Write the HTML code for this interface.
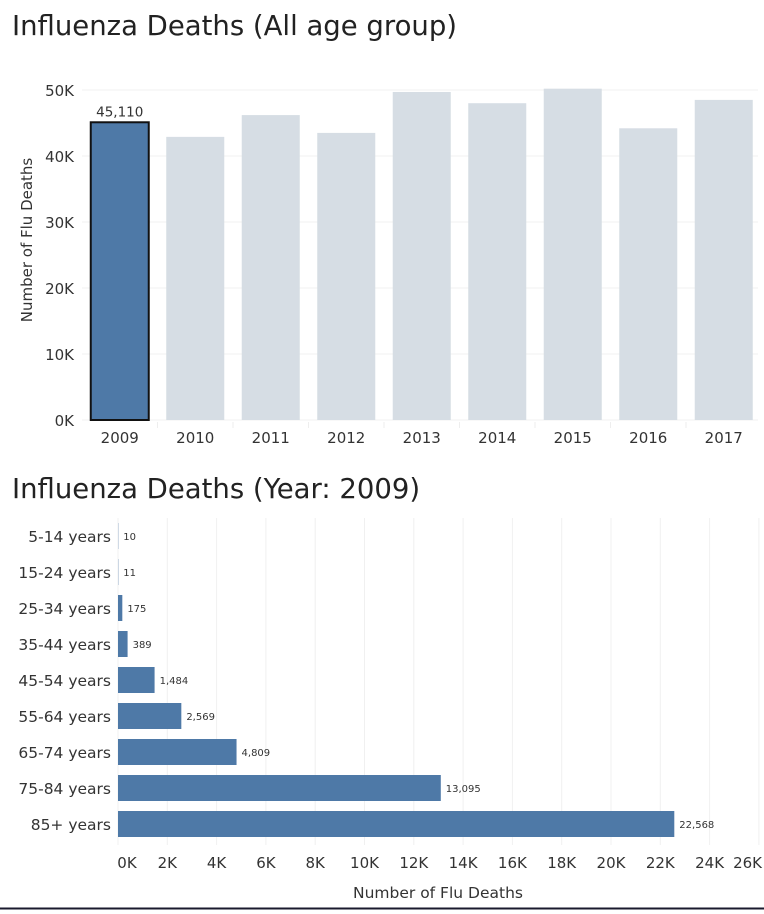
<!DOCTYPE html>
<html><head><meta charset="utf-8"><style>
body{margin:0;background:#fff;width:764px;height:910px;overflow:hidden;font-family:"DejaVu Sans","Liberation Sans",sans-serif}
svg text{font-family:"DejaVu Sans","Liberation Sans",sans-serif}
</style></head><body>
<svg width="764" height="910">
<text x="12" y="35" font-size="27.5" fill="#222">Influenza Deaths (All age group)</text>
<g id="topchart"></g>
<text x="12" y="498" font-size="27.5" fill="#222">Influenza Deaths (Year: 2009)</text>
<g id="botchart"></g>
<line x1="0" y1="908.5" x2="764" y2="908.5" stroke="#1a1a2e" stroke-width="2"/>
</svg>
<script>
const years=["2009","2010","2011","2012","2013","2014","2015","2016","2017"];
const yearDeaths=[45110,42900,46200,43500,49700,48000,50200,44200,48500];
const yTicks=[0,10000,20000,30000,40000,50000];
const yTickLabels=["0K","10K","20K","30K","40K","50K"];
const ages=["5-14 years","15-24 years","25-34 years","35-44 years","45-54 years","55-64 years","65-74 years","75-84 years","85+ years"];
const ageDeaths=[10,11,175,389,1484,2569,4809,13095,22568];
const ageLabels=["10","11","175","389","1,484","2,569","4,809","13,095","22,568"];
const xTicks=[0,2000,4000,6000,8000,10000,12000,14000,16000,18000,20000,22000,24000,26000];
const xTickLabels=["0K","2K","4K","6K","8K","10K","12K","14K","16K","18K","20K","22K","24K","26K"];
const NS="http://www.w3.org/2000/svg";
function mk(p,t,a,txt){const e=document.createElementNS(NS,t);for(const k in a)e.setAttribute(k,a[k]);if(txt!=null)e.textContent=txt;p.appendChild(e);return e;}
const topG=document.getElementById('topchart');
const y0=420,yScale=v=>y0-v*330/50000;
const x0=82,band=75.5,bx=i=>x0+band*i;
yTicks.forEach((t,i)=>{
 const gl=mk(topG,'line',{x1:x0,x2:758,y1:yScale(t),y2:yScale(t),stroke:'#f0f0f0'});
 
 
 const tl=mk(topG,'text',{x:74,y:yScale(t)+6,'text-anchor':'end','font-size':15,fill:'#333'},yTickLabels[i]);
 
 
});
const yt=mk(topG,'text',{x:0,y:0,transform:'translate(32,240) rotate(-90)','text-anchor':'middle','font-size':15,fill:'#333'},'Number of Flu Deaths');


years.forEach((yr,i)=>{
 const sel=i===0;
 const b=mk(topG,'rect',{x:bx(i)+band/2-29,y:yScale(yearDeaths[i]),width:58,height:y0-yScale(yearDeaths[i]),fill:sel?'#4e79a7':'#d6dde4',stroke:sel?'#111':'none','stroke-width':sel?2:0});
 
 
 const l=mk(topG,'text',{x:bx(i)+band/2,y:443,'text-anchor':'middle','font-size':15,fill:'#333'},yr);
 
 
 if(i>0){const s=mk(topG,'line',{x1:bx(i),x2:bx(i),y1:422,y2:428,stroke:'#eee'});
 
 }
});
const vl=mk(topG,'text',{x:bx(0)+band/2,y:yScale(yearDeaths[0])-6,'text-anchor':'middle','font-size':13.5,fill:'#333'},yearDeaths[0].toLocaleString('en-US'));


const botG=document.getElementById('botchart');
const bx0=118,xs=v=>bx0+v*24.65/1000;
const rowY=i=>536+36*i;
xTicks.forEach((t,i)=>{
 const last=i===xTicks.length-1;
 const g=mk(botG,'line',{x1:xs(t),x2:xs(t),y1:518,y2:845,stroke:'#f0f0f0'});
 
 
 const tl=mk(botG,'text',{x:last?762:xs(t)+(i===0?9:0),y:868,'text-anchor':last?'end':'middle','font-size':15,fill:'#333'},xTickLabels[i]);
 
 
});
ages.forEach((a,i)=>{
 const l=mk(botG,'text',{x:111,y:rowY(i)+6,'text-anchor':'end','font-size':15.5,fill:'#333'},a);
 
 
 const w=Math.max(xs(ageDeaths[i])-bx0,0);
 const b=mk(botG,'rect',{x:bx0,y:rowY(i)-13,width:w,height:26,fill:'#4e79a7'});
 
 
 const v=mk(botG,'text',{x:bx0+w+5,y:rowY(i)+4,'font-size':10,fill:'#333'},ageLabels[i]);
 
 
});
const xt=mk(botG,'text',{x:438,y:898,'text-anchor':'middle','font-size':15.5,fill:'#333'},'Number of Flu Deaths');


</script>
</body></html>
